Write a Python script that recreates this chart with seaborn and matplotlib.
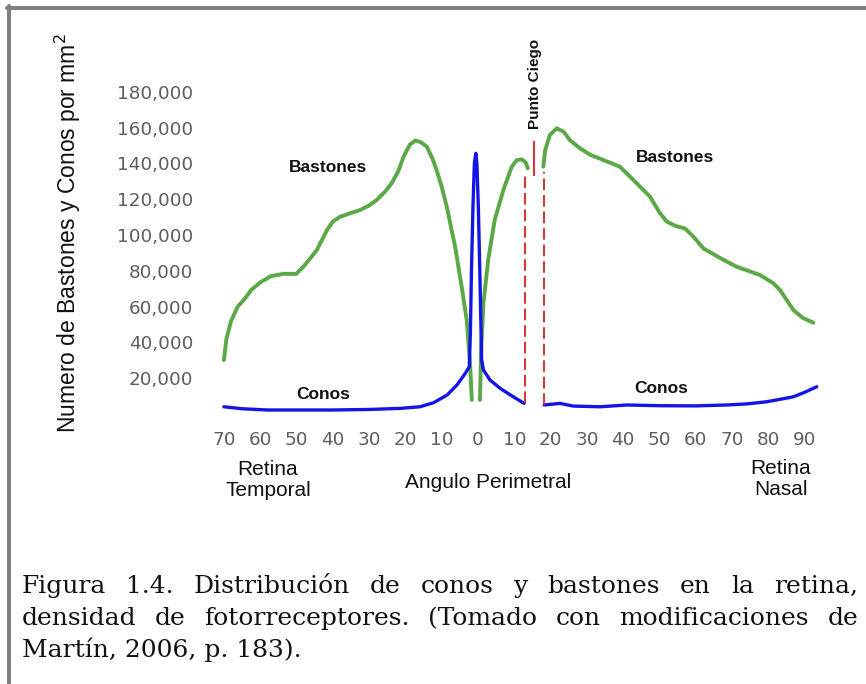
import matplotlib
matplotlib.use("Agg")
import matplotlib.pyplot as plt
from matplotlib.lines import Line2D
import numpy as np
import pandas as pd
import seaborn as sns

# ---------------- data ----------------
# angle: negative = temporal retina, positive = nasal retina (degrees)
bast_left_angle = [-70, -69.3, -68, -66.2, -64, -62.5, -60, -57, -53.5, -50.1, -48.1, -46,
                   -44.4, -41.6, -40, -38, -35, -32.5, -30, -27.9, -25.5, -23.8, -22, -20.5,
                   -18.8, -17.3, -15.8, -14.1, -12.5, -11.4, -10, -8.6, -6.3, -4.5, -3.1,
                   -2.2, -1.7]
bast_left_value = [30000, 42000, 52000, 59900, 65000, 69200, 73500, 77000, 78300, 78200,
                   82300, 87500, 91600, 102800, 107500, 110200, 112300, 114000, 116500,
                   119600, 124500, 128900, 135500, 143800, 150500, 152800, 152000, 149400,
                   142500, 136300, 127000, 115800, 93400, 71100, 52400, 28200, 7700]

bast_mid_angle = [0.55, 0.83, 1.5, 2.8, 4.6, 7.0, 9.3, 10.7, 12.1, 13.2, 13.7]
bast_mid_value = [7700, 33800, 61800, 86000, 108400, 125200, 138200, 141900, 142300,
                  140400, 137300]

bast_right_angle = [18.0, 18.5, 19.8, 21.7, 23.6, 25.3, 28.1, 31, 34.5, 39.1, 42.8, 47.4,
                    50.1, 52.0, 54.5, 57.0, 59.2, 62.1, 66.7, 71.2, 77.7, 81.3, 83.2,
                    86.9, 89.5, 92.4]
bast_right_value = [138200, 147500, 155900, 159700, 157800, 153100, 148500, 144800,
                    142000, 138200, 130800, 121400, 112300, 107500, 105000, 103700,
                    99400, 92500, 87100, 82300, 77600, 73100, 69200, 58000, 53600, 50900]

conos_left_angle = [-70, -65, -58, -50, -40, -30, -21.5, -16, -12.2, -8.5, -5.8, -3.5,
                    -2.4, -2.1, -1.8, -1.4, -1.0, -0.6, -0.3, 0.1, 0.5, 0.8, 1.0, 1.5,
                    3.3, 6.1, 9.7, 12.7]
conos_left_value = [3900, 2800, 2100, 2100, 2100, 2400, 3000, 3900, 6200, 10500, 16100,
                    22600, 26300, 45000, 80000, 115000, 140000, 145700, 140000, 115000,
                    80000, 50000, 30000, 24500, 18900, 14200, 9500, 5800]

conos_right_angle = [18.2, 22.6, 26.2, 33.6, 41, 50, 60, 68.5, 74, 79.5, 83, 86.9, 90, 93.3]
conos_right_value = [4900, 5800, 4300, 3900, 4900, 4500, 4400, 4900, 5500, 6700, 8000,
                     9500, 12000, 15100]

blind_edges_angle = [12.95, 18.2]
blind_edges_low = [5800, 5000]
blind_edges_high = [134700, 135400]
blind_center_angle = [15.4]
blind_center_low = [133000]
blind_center_high = [152700]

y_ticks = [20000, 40000, 60000, 80000, 100000, 120000, 140000, 160000, 180000]
x_ticks = [-70, -60, -50, -40, -30, -20, -10, 0, 10, 20, 30, 40, 50, 60, 70, 80, 90]
x_tick_labels = [str(abs(v)) for v in x_ticks]

caption_lines = [
    "Figura 1.4. Distribución de conos y bastones en la retina,",
    "densidad de fotorreceptores. (Tomado con modificaciones de",
    "Martín, 2006, p. 183).",
]

# ---------------- figure ----------------
sns.set_style("white")
plt.rcParams["font.family"] = ["Liberation Sans", "DejaVu Sans"]

W, H = 866, 684
fig = plt.figure(figsize=(W / 100, H / 100), dpi=100)
fig.patch.set_facecolor("white")


def fx(x):
    return x / W


def fy(y):
    return 1 - y / H


# axes placement in pixels
xlim = (-75, 95)
ylim = (-5000, 185000)
px_per_deg = 3.63
x0_px = 478.0
y0_px = 413.75
px_per_unit = 35.75 / 20000
left_px = x0_px + xlim[0] * px_per_deg
right_px = x0_px + xlim[1] * px_per_deg
bottom_px = y0_px - ylim[0] * px_per_unit
top_px = y0_px - ylim[1] * px_per_unit
ax = fig.add_axes([fx(left_px), fy(bottom_px), (right_px - left_px) / W,
                   (bottom_px - top_px) / H])
ax.set_xlim(*xlim)
ax.set_ylim(*ylim)
ax.set_facecolor("none")

green = "#5aa846"
blue = "#1414e6"
red = "#dc2f2f"

segments = [
    (bast_left_angle, bast_left_value, green, 2.8),
    (bast_mid_angle, bast_mid_value, green, 2.8),
    (bast_right_angle, bast_right_value, green, 2.8),
    (conos_left_angle, conos_left_value, blue, 2.4),
    (conos_right_angle, conos_right_value, blue, 2.4),
]
for xs, ys, c, lw in segments:
    df = pd.DataFrame({"angle": xs, "value": ys})
    sns.lineplot(data=df, x="angle", y="value", ax=ax, color=c, linewidth=lw,
                 sort=False, estimator=None, solid_capstyle="round",
                 solid_joinstyle="round")

ax.vlines(blind_edges_angle, blind_edges_low, blind_edges_high, colors=red,
          linewidth=1.4, linestyles=(0, (6, 2.5)))
ax.vlines(blind_center_angle, blind_center_low, blind_center_high, colors=red,
          linewidth=1.4)

for s in ax.spines.values():
    s.set_visible(False)
ax.set_xlabel("")
ax.set_ylabel("")
ax.set_yticks(y_ticks)
ax.set_yticklabels([f"{v:,}" for v in y_ticks])
ax.set_xticks(x_ticks)
ax.set_xticklabels(x_tick_labels)
ax.tick_params(axis="y", length=0, pad=9.2, labelsize=13.2, labelcolor="#5e5e5e")
ax.tick_params(axis="x", length=0, pad=6.3, labelsize=13.2, labelcolor="#5e5e5e")
for lab in ax.get_xticklabels() + ax.get_yticklabels():
    lab.set_fontfamily(["DejaVu Sans"])
ax.grid(False)

# annotations inside the chart
lab_kw = dict(ha="center", va="center", fontsize=12.5, fontweight="bold", color="#111111")
ax.text(-41.3, 137500, "Bastones", **lab_kw)
ax.text(54.3, 143600, "Bastones", **lab_kw)
ax.text(-42.7, 11000, "Conos", **lab_kw)
ax.text(50.4, 14400, "Conos", **lab_kw)
ax.text(15.7, 184500, "Punto Ciego", ha="center", va="center", rotation=90,
        fontsize=11, fontweight="bold", color="#111111", clip_on=False)

# axis titles
fig.text(fx(68), fy(233), "Numero de Bastones y Conos por mm$^{2}$", rotation=90,
         ha="center", va="center", fontsize=16.5, color="#111111")
fig.text(fx(268), fy(480), "Retina\nTemporal", ha="center", va="center",
         fontsize=15, linespacing=1.15, color="#111111")
fig.text(fx(488), fy(482), "Angulo Perimetral", ha="center", va="center",
         fontsize=15, color="#111111")
fig.text(fx(781), fy(479), "Retina\nNasal", ha="center", va="center",
         fontsize=15, linespacing=1.15, color="#111111")

# grey frame
fig.add_artist(Line2D([fx(7), fx(W + 5)], [fy(8), fy(8)], color="#808080",
                      linewidth=2.9, transform=fig.transFigure))
fig.add_artist(Line2D([fx(9), fx(9)], [fy(6), fy(H + 5)], color="#808080",
                      linewidth=2.9, transform=fig.transFigure))

# caption (justified lines)
cap_kw = dict(fontsize=18, family=["DejaVu Serif"], color="#111111", va="baseline",
              ha="left")
fig.canvas.draw()
renderer = fig.canvas.get_renderer()
x_left, x_right = 22, 858
baselines = [593, 625, 657]
for i, (line, base) in enumerate(zip(caption_lines, baselines)):
    if i == len(caption_lines) - 1:
        fig.text(fx(x_left), fy(base), line, **cap_kw)
        continue
    words = line.split(" ")
    arts = [fig.text(0, fy(base), w, **cap_kw) for w in words]
    widths = [a.get_window_extent(renderer).width for a in arts]
    gap = (x_right - x_left - sum(widths)) / (len(words) - 1)
    x = x_left
    for a, w in zip(arts, widths):
        a.set_x(fx(x))
        x += w + gap

fig.savefig("out.png", dpi=100, facecolor="white")
